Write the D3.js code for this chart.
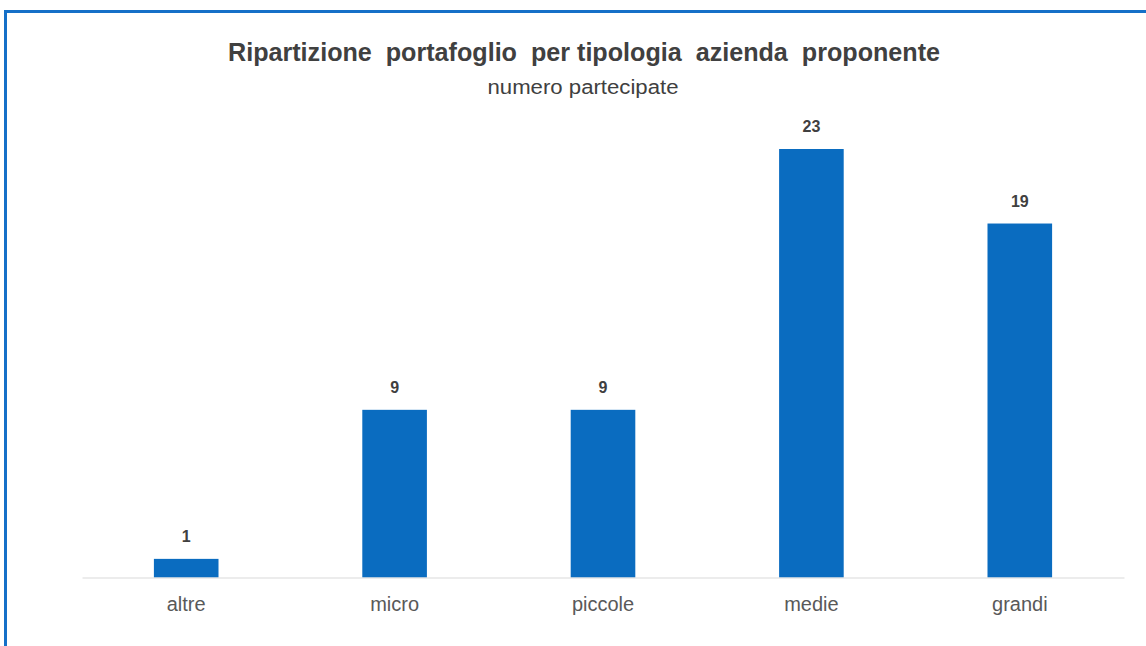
<!DOCTYPE html>
<html>
<head>
<meta charset="utf-8">
<script src="https://cdn.jsdelivr.net/npm/d3@7"></script>
<style>
  body { margin: 0; background: #fff; }
  svg { display: block; font-family: "Liberation Sans", Arial, sans-serif; }
  text { white-space: pre; }
</style>
</head>
<body>
<div id="main"></div>
<script>
const categories = ["altre", "micro", "piccole", "medie", "grandi"];
const values = [1, 9, 9, 23, 19];
const titleText = "Ripartizione  portafoglio  per tipologia  azienda  proponente";
const subtitleText = "numero partecipate";

const w = 1146;
const h = 646;
const margin = { top: 149, right: 22, bottom: 68, left: 82 };

const svg = d3.select("#main").append("svg")
  .attr("width", w)
  .attr("height", h);

// blue frame (only top and left edges visible in the crop)
svg.append("rect")
  .attr("x", 5.5)
  .attr("y", 11.5)
  .attr("width", w + 20)
  .attr("height", h + 20)
  .attr("fill", "none")
  .attr("stroke", "#1570c8")
  .attr("stroke-width", 3);

const xScale = d3.scaleBand()
  .domain(categories)
  .range([margin.left, w - margin.right])
  .paddingInner(0.69)
  .paddingOuter(0.345);

const yScale = d3.scaleLinear()
  .domain([0, d3.max(values)])
  .range([h - margin.bottom - 0.5, margin.top]);

svg.append("text")
  .attr("x", 584)
  .attr("y", 61)
  .attr("text-anchor", "middle")
  .attr("font-size", 26)
  .attr("font-weight", "bold")
  .attr("fill", "#404040")
  .attr("textLength", 712)
  .attr("lengthAdjust", "spacingAndGlyphs")
  .text(titleText);

svg.append("text")
  .attr("x", 583)
  .attr("y", 94)
  .attr("text-anchor", "middle")
  .attr("font-size", 20)
  .attr("fill", "#404040")
  .attr("textLength", 191)
  .attr("lengthAdjust", "spacingAndGlyphs")
  .text(subtitleText);

const data = categories.map((c, i) => ({ cat: c, val: values[i] }));

svg.selectAll("rect.bar")
  .data(data)
  .enter()
  .append("rect")
  .attr("class", "bar")
  .attr("x", d => xScale(d.cat))
  .attr("y", d => yScale(d.val))
  .attr("width", xScale.bandwidth())
  .attr("height", d => yScale(0) - yScale(d.val))
  .attr("fill", "#0a6cc0");

const xAxis = d3.axisBottom(xScale).tickSize(0).tickPadding(19);

const gx = svg.append("g")
  .attr("transform", "translate(0," + yScale(0) + ")")
  .call(xAxis);
gx.select(".domain").attr("stroke", "#d9d9d9").attr("stroke-width", 1);
gx.selectAll(".tick text")
  .attr("font-size", 20)
  .attr("fill", "#595959")
  .attr("font-family", "Liberation Sans, Arial, sans-serif");

svg.selectAll("text.value")
  .data(data)
  .enter()
  .append("text")
  .attr("class", "value")
  .attr("x", d => xScale(d.cat) + xScale.bandwidth() / 2)
  .attr("y", d => yScale(d.val) - 17)
  .attr("text-anchor", "middle")
  .attr("font-size", 16)
  .attr("font-weight", "bold")
  .attr("fill", "#404040")
  .text(d => d.val);
</script>
</body>
</html>
